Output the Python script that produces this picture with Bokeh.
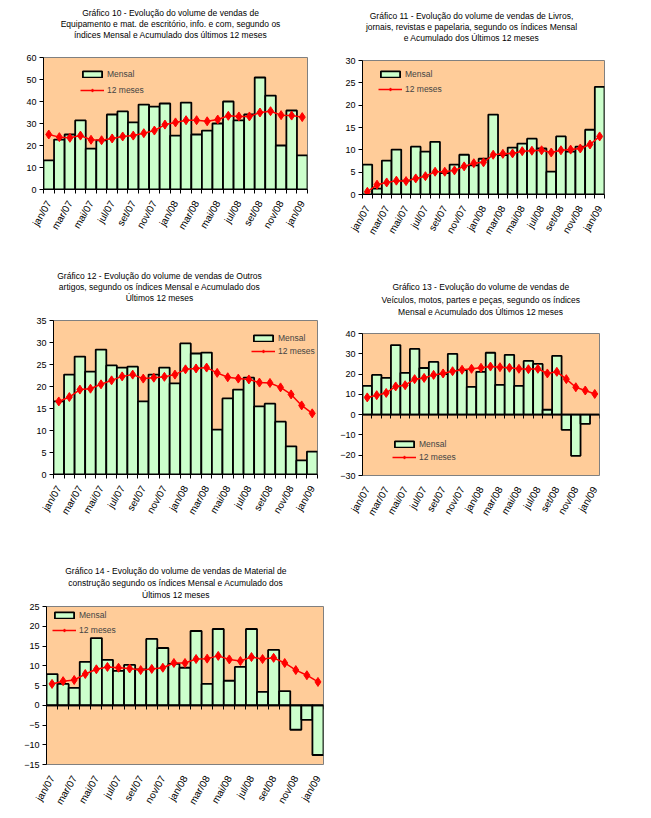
import math
from bokeh.plotting import figure
from bokeh.models import (FixedTicker, LinearAxis, Legend, LegendItem, Label, Range1d,
                          ColumnDataSource)
from bokeh.layouts import column, row
from bokeh.embed import file_html
from bokeh.resources import INLINE

months = ["jan/07", "fev/07", "mar/07", "abr/07", "mai/07", "jun/07", "jul/07", "ago/07",
          "set/07", "out/07", "nov/07", "dez/07", "jan/08", "fev/08", "mar/08", "abr/08",
          "mai/08", "jun/08", "jul/08", "ago/08", "set/08", "out/08", "nov/08", "dez/08", "jan/09"]

# Gráfico 10
g10_mensal = [13.2, 22.7, 25.0, 31.4, 18.6, 22.3, 34.1, 35.5, 30.5, 38.6, 37.7, 39.1, 24.5,
              39.5, 25.0, 26.8, 30.0, 40.0, 31.4, 34.1, 50.9, 42.7, 20.0, 35.9, 15.5]
g10_12m = [25.0, 23.8, 23.5, 24.5, 22.6, 22.4, 23.2, 24.1, 24.5, 25.6, 26.8, 29.5, 30.5,
           31.5, 31.5, 31.0, 31.8, 33.5, 33.2, 33.2, 35.0, 35.6, 33.8, 33.6, 32.9]
# Gráfico 11
g11_mensal = [6.7, 1.3, 7.6, 10.05, 3.1, 10.7, 9.6, 11.8, 4.8, 6.7, 8.9, 6.5, 8.0,
              17.9, 8.8, 10.5, 11.4, 12.5, 10.3, 5.1, 13.0, 9.6, 10.7, 14.5, 24.1]
g11_12m = [0.6, 2.2, 2.7, 3.1, 3.0, 3.6, 4.1, 5.1, 5.1, 5.4, 6.3, 7.0, 7.2,
           8.9, 9.1, 9.2, 9.7, 9.8, 9.9, 9.4, 9.9, 10.05, 10.3, 11.2, 13.0]
# Gráfico 12
g12_mensal = [16.6, 22.7, 26.8, 23.4, 28.4, 24.8, 24.3, 24.5, 16.6, 22.7, 24.3, 20.7, 29.8,
              27.5, 27.7, 10.2, 17.3, 19.3, 22.0, 15.5, 16.1, 12.0, 6.4, 3.2, 5.2]
g12_12m = [16.6, 17.6, 19.3, 19.5, 20.5, 21.4, 22.3, 22.7, 21.8, 22.0, 22.2, 22.7, 23.9,
           24.1, 24.3, 23.1, 22.1, 21.8, 21.6, 20.9, 20.8, 19.8, 18.2, 15.7, 13.9]
# Gráfico 13
g13_mensal = [14.2, 19.6, 18.1, 34.3, 20.6, 32.4, 23.0, 26.0, 20.0, 30.0, 22.0, 13.7, 21.1,
              30.5, 14.7, 29.5, 14.2, 26.5, 25.0, 2.4, 29.0, -7.5, -20.3, -4.6, 0.0]
g13_12m = [8.5, 9.6, 10.7, 13.9, 14.5, 17.5, 18.1, 19.6, 20.3, 21.4, 22.1, 22.6, 23.1,
           23.7, 23.4, 23.1, 22.6, 22.4, 22.6, 20.3, 21.1, 17.5, 13.5, 11.9, 10.2]
# Gráfico 14
g14_mensal = [7.9, 5.4, 4.4, 11.0, 17.0, 11.5, 8.7, 10.2, 9.1, 16.8, 14.5, 10.5, 9.5,
              18.8, 5.4, 19.3, 6.2, 9.7, 19.3, 3.4, 14.0, 3.6, -6.2, -3.7, -12.6]
g14_12m = [5.4, 6.1, 6.4, 7.9, 9.1, 9.7, 9.5, 9.3, 8.9, 9.2, 9.5, 10.7, 10.7,
           11.7, 11.8, 12.5, 11.6, 11.2, 12.2, 11.7, 12.0, 10.7, 8.9, 7.6, 5.9]

titles = {
    10: ["Gráfico 10 - Evolução do volume de vendas de",
         "Equipamento e mat. de escritório, info. e com, segundo os",
         "índices Mensal e Acumulado dos últimos 12 meses"],
    11: ["Gráfico 11 - Evolução do volume de vendas de Livros,",
         "jornais, revistas e papelaria, segundo os índices Mensal",
         "e Acumulado dos Últimos 12 meses"],
    12: ["Gráfico 12 - Evolução do volume de vendas de Outros",
         "artigos, segundo os índices Mensal e Acumulado dos",
         "Últimos 12 meses"],
    13: ["Gráfico 13 - Evolução do volume de vendas de",
         "Veículos, motos, partes e peças, segundo os índices",
         "Mensal e Acumulado dos Últimos 12 meses"],
    14: ["Gráfico 14 - Evolução do volume de vendas de Material de",
         "construção segundo os índices Mensal e Acumulado dos",
         "Últimos 12 meses"],
}

FONT = "Liberation Sans"
PEACH = "#FFCC99"
GREEN = "#CCFFCC"
RED = "#FF0000"
TOP_GAP = 4


def title_panel(key, fw, bl, br, ht, cx, ys):
    t = figure(frame_width=fw, frame_height=ht, output_backend="svg", toolbar_location=None,
               x_range=Range1d(0, 1), y_range=Range1d(0, 1),
               min_border_left=bl, min_border_right=br, min_border_top=0, min_border_bottom=0,
               x_axis_location=None, y_axis_location=None)
    t.outline_line_color = None
    t.background_fill_color = "white"
    t.border_fill_color = "white"
    t.xgrid.visible = False
    t.ygrid.visible = False
    for line, y in zip(titles[key], ys):
        t.add_layout(Label(x=cx, y=y, x_units="screen", y_units="screen", text=line,
                           text_align="center", text_baseline="middle", text_font=FONT,
                           text_font_size="8.5px", text_color="black"))
    return t


def make_chart(key, mensal, acum, ylo, yhi, ystep, fw, fh, bl, br, bb,
               leg_x, leg_top, leg_spacing, zero_axis=False):
    n = len(months)
    xs = list(range(n))
    p = figure(frame_width=fw, frame_height=fh, output_backend="svg", toolbar_location=None,
               x_range=Range1d(-0.5, n - 0.5), y_range=Range1d(ylo, yhi),
               min_border_left=bl, min_border_right=br, min_border_top=TOP_GAP,
               min_border_bottom=bb, x_axis_location=None, y_axis_location=None)
    p.background_fill_color = PEACH
    p.border_fill_color = "white"
    p.outline_line_color = "#808080"
    p.outline_line_width = 1
    p.xgrid.visible = False
    p.ygrid.visible = False

    src = ColumnDataSource(dict(x=xs, m=mensal, a=acum))
    bars = p.vbar(x="x", top="m", bottom=0, width=1.0, source=src,
                  fill_color=GREEN, line_color="black", line_width=1.8)
    ln = p.line(x="x", y="a", source=src, line_color=RED, line_width=1.5)
    sc = p.scatter(x="x", y="a", source=src, marker="diamond", size=9,
                   fill_color=RED, line_color=RED)

    yax = LinearAxis(ticker=FixedTicker(ticks=list(range(ylo, yhi + 1, ystep))))
    yax.major_label_text_font = FONT
    yax.major_label_text_font_size = "9px"
    yax.major_label_text_color = "black"
    yax.major_tick_out = 4
    yax.major_tick_in = 0
    yax.minor_tick_line_color = None
    yax.axis_line_color = "black"
    yax.major_tick_line_color = "black"
    yax.major_label_standoff = 3
    p.add_layout(yax, "left")

    boundaries = [i - 0.5 for i in range(n + 1)]
    label_ticks = xs[::2]
    overrides = {i: months[i] for i in label_ticks}

    xax = LinearAxis(ticker=FixedTicker(ticks=label_ticks, minor_ticks=boundaries))
    xax.major_label_overrides = overrides
    xax.major_label_orientation = math.pi / 3
    xax.major_label_text_font = FONT
    xax.major_label_text_font_size = "10px"
    xax.major_label_text_color = "black"
    xax.major_tick_line_color = None
    xax.major_label_standoff = 6
    if zero_axis:
        xax.axis_line_color = None
        xax.minor_tick_line_color = None
        p.add_layout(xax, "below")
        zax = LinearAxis(ticker=FixedTicker(ticks=[], minor_ticks=boundaries), fixed_location=0)
        zax.axis_line_color = "black"
        zax.axis_line_width = 1.5
        zax.minor_tick_out = 4
        zax.minor_tick_in = 0
        zax.minor_tick_line_color = "black"
        zax.major_tick_line_color = None
        zax.major_label_text_font_size = "0px"
        p.add_layout(zax, "below")
    else:
        xax.axis_line_color = "black"
        xax.minor_tick_out = 4
        xax.minor_tick_in = 0
        xax.minor_tick_line_color = "black"
        p.add_layout(xax, "below")

    leg = Legend(items=[LegendItem(label="Mensal", renderers=[bars]),
                        LegendItem(label="12 meses", renderers=[ln, sc])],
                 orientation="vertical", padding=0, margin=0, spacing=leg_spacing,
                 glyph_width=24, glyph_height=8, label_height=10, label_standoff=3,
                 label_text_font=FONT, label_text_font_size="8.5px",
                 background_fill_alpha=0, border_line_color=None)
    leg_h = 20 + leg_spacing
    leg.location = (leg_x, fh - leg_top - leg_h)
    p.add_layout(leg, "center")
    return p


# chart: frame width/height, borders left/right/bottom; title panel height and line positions
t10 = title_panel(10, 264, 43, 23, 53, 127, (40.7, 29.7, 18.7))
f10 = make_chart(10, g10_mensal, g10_12m, 0, 60, 10, 264, 132, 43, 23, 73, 37, 12, 6)
t11 = title_panel(11, 242, 32, 44, 56, 109, (41, 29.5, 18.3))
f11 = make_chart(11, g11_mensal, g11_12m, 0, 30, 5, 242, 134, 32, 44, 68, 16, 9, 5)
t12 = title_panel(12, 264, 53, 13, 54, 106, (41, 30, 18.3))
f12 = make_chart(12, g12_mensal, g12_12m, 0, 35, 5, 264, 154, 53, 13, 66, 198, 13, 3)
t13 = title_panel(13, 237, 32, 49, 67, 118.3, (42.3, 30, 18))
f13 = make_chart(13, g13_mensal, g13_12m, -30, 40, 10, 237, 142, 32, 49, 65, 30, 106, 3,
                 zero_axis=True)
t14 = title_panel(14, 277, 46, 7, 62, 129.3, (31.3, 19.7, 8))
f14 = make_chart(14, g14_mensal, g14_12m, -15, 25, 5, 277, 158, 46, 7, 51, 6, 4, 5,
                 zero_axis=True)

row1 = row(column(t10, f10, spacing=0), column(t11, f11, spacing=0), spacing=0)
row2 = row(column(t12, f12, spacing=0), column(t13, f13, spacing=0), spacing=0)
layout = column(row1, row2, column(t14, f14, spacing=0), spacing=0)

open("out.html", "w").write(file_html(layout, INLINE))
